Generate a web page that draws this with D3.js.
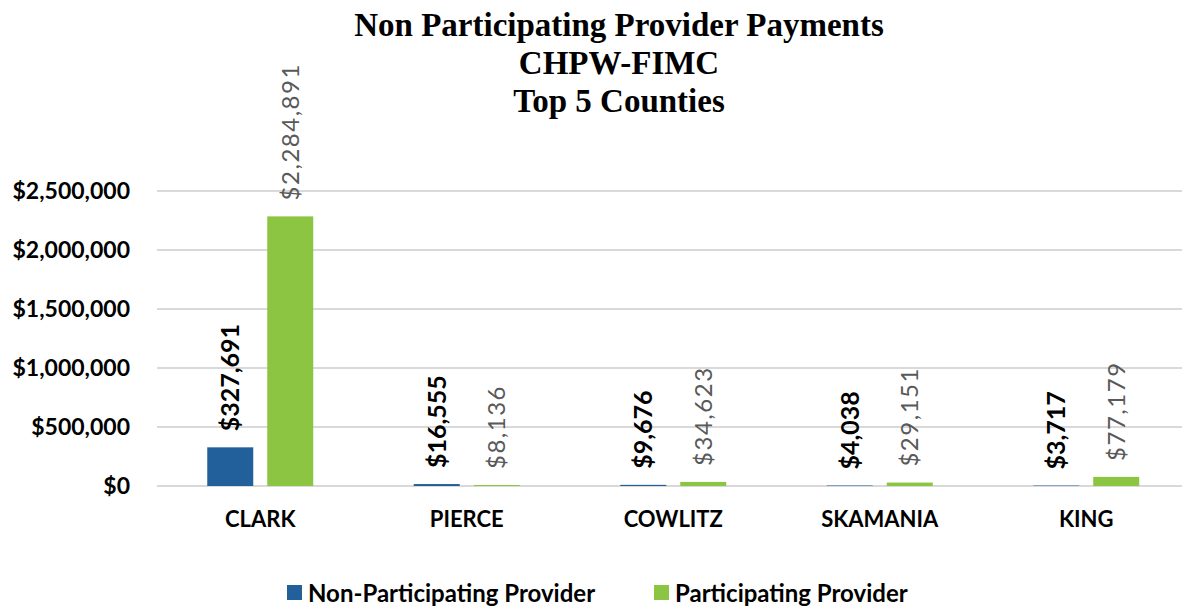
<!DOCTYPE html>
<html>
<head>
<meta charset="utf-8">
<script src="https://cdn.jsdelivr.net/npm/d3@7"></script>
<style>
  body { margin: 0; background: #fff; }
  text { font-family: Lato, "Open Sans", sans-serif; }
</style>
</head>
<body>
<svg id="chart"></svg>
<script>
const size = {w: 1182, h: 606};
// right margin is negative: the plot runs past the right edge in the original
const margin = {t: 191, r: -7.5, b: 120, l: 157};

// data
const counties = ['CLARK', 'PIERCE', 'COWLITZ', 'SKAMANIA', 'KING'];
const nonParticipating = [327691, 16555, 9676, 4038, 3717];
const participating = [2284891, 8136, 34623, 29151, 77179];
const seriesNames = ['Non-Participating Provider', 'Participating Provider'];
const seriesColors = ['#22609c', '#8cc541'];
const yTicks = [0, 500000, 1000000, 1500000, 2000000, 2500000];
const titleLines = ['Non Participating Provider Payments', 'CHPW-FIMC', 'Top 5 Counties'];

const svg = d3.select('svg#chart')
    .attr('width', size.w)
    .attr('height', size.h);

const innerW = size.w - margin.l - margin.r;
const innerH = size.h - margin.t - margin.b;

const g = svg.append('g')
    .attr('transform', `translate(${margin.l}, ${margin.t})`);

const x = d3.scaleBand()
    .domain(counties)
    .range([0, innerW]);

// two bars of 46px with a 14px gap, centred in each band
const xs = d3.scaleBand()
    .domain([0, 1])
    .range([x.bandwidth() / 2 - 53, x.bandwidth() / 2 + 53])
    .paddingInner(14 / 60);

const y = d3.scaleLinear()
    .domain([0, 2500000])
    .range([innerH, 0]);

const money = d => '$' + d3.format(',')(d);

// title
svg.append('g')
    .selectAll('text')
    .data(titleLines)
    .join('text')
    .attr('x', 619)
    .attr('y', (d, i) => 36 + i * 38)
    .attr('text-anchor', 'middle')
    .style('font-family', '"Liberation Serif", "DejaVu Serif", serif')
    .style('font-weight', 'bold')
    .style('font-size', '33px')
    .text(d => d);

// gridlines
g.append('g')
    .selectAll('line')
    .data(yTicks)
    .join('line')
    .attr('x1', 0)
    .attr('x2', innerW)
    .attr('y1', d => y(d))
    .attr('y2', d => y(d))
    .attr('stroke', '#d9d9d9')
    .attr('stroke-width', 2);

// y axis labels
const yAxis = g.append('g')
    .call(d3.axisLeft(y).tickValues(yTicks).tickFormat(money).tickSize(0).tickPadding(27));
yAxis.select('.domain').remove();
yAxis.selectAll('text')
    .style('font-size', '23px')
    .style('font-weight', 'bold')
    .attr('fill', '#000');

// x axis labels
const xAxis = g.append('g')
    .attr('transform', `translate(0, ${innerH})`)
    .call(d3.axisBottom(x).tickSize(0).tickPadding(25));
xAxis.select('.domain').remove();
xAxis.selectAll('text')
    .style('font-size', '22px')
    .style('font-weight', 'bold')
    .attr('fill', '#000');

const rows = counties.map((c, i) => ({county: c, values: [nonParticipating[i], participating[i]]}));

const groups = g.selectAll('g.county')
    .data(rows)
    .join('g')
    .classed('county', true)
    .attr('transform', d => `translate(${x(d.county)}, 0)`);

// bars
groups.selectAll('rect')
    .data(d => d.values.map((v, k) => ({k, v})))
    .join('rect')
    .attr('x', d => xs(d.k))
    .attr('y', d => y(d.v))
    .attr('width', xs.bandwidth())
    .attr('height', d => innerH - y(d.v))
    .attr('fill', d => seriesColors[d.k]);

// value labels
groups.selectAll('text.val')
    .data(d => d.values.map((v, k) => ({k, v})))
    .join('text')
    .classed('val', true)
    .attr('transform', d => `translate(${xs(d.k) + xs.bandwidth() / 2}, ${y(d.v) - 16}) rotate(-90)`)
    .attr('dy', '0.35em')
    .style('font-size', d => d.k === 0 ? '25px' : '24px')
    .style('font-weight', d => d.k === 0 ? 'bold' : 'normal')
    .style('letter-spacing', d => d.k === 0 ? '0px' : '1.5px')
    .attr('fill', d => d.k === 0 ? '#000' : '#595959')
    .text(d => money(d.v));

// legend
const legend = svg.append('g')
    .selectAll('g')
    .data(seriesNames)
    .join('g')
    .attr('transform', (d, i) => `translate(${[287, 654][i]}, 594)`);

legend.append('rect')
    .attr('x', 0)
    .attr('y', -9)
    .attr('width', 15)
    .attr('height', 15)
    .attr('fill', (d, i) => seriesColors[i]);

legend.append('text')
    .attr('x', 21)
    .attr('y', 0)
    .attr('dy', '0.35em')
    .style('font-size', '24px')
    .style('font-weight', 'bold')
    .attr('fill', '#000')
    .text(d => d);
</script>
</body>
</html>
